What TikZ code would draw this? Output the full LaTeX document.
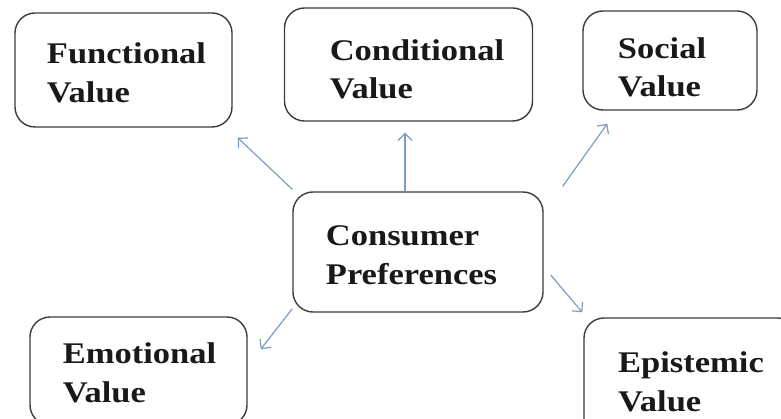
\documentclass[tikz,border=0pt]{standalone}
\usepackage{fontspec}
\setmainfont[FakeStretch=1.15]{Liberation Serif}
\usetikzlibrary{arrows.meta,calc}
\definecolor{boxline}{RGB}{60,60,60}
\definecolor{arrowblue}{RGB}{125,155,195}
\definecolor{inktext}{RGB}{25,25,25}
\begin{document}
\begin{tikzpicture}[x=1pt,y=-1pt,
  valuebox/.style={draw=boxline, line width=1.4pt, rounded corners=20pt,
    inner sep=0pt},
  valuetext/.style={align=left, inner sep=0pt, text=inktext,
    font=\bfseries\fontsize{30}{38.5}\selectfont},
  link/.style={draw=arrowblue, line width=1.2pt,
    -{Straight Barb[length=7pt,width=14pt]}}]
  \useasboundingbox (0,0) rectangle (781,419);
  \clip (0,0) rectangle (781,419);

  % rounded boxes
  \node[valuebox, minimum width=217pt, minimum height=114pt] (fv) at (123.5,70) {};
  \node[valuebox, minimum width=248pt, minimum height=113pt] (cv) at (408.5,64.5) {};
  \node[valuebox, minimum width=174pt, minimum height=99pt] (sv) at (670,60.5) {};
  \node[valuebox, minimum width=250pt, minimum height=120pt] (cp) at (418,252) {};
  \node[valuebox, minimum width=217pt, minimum height=108pt] (ev) at (138.5,371) {};
  \node[valuebox, minimum width=214pt, minimum height=122pt] (xv) at (691,379) {};

  % labels inside the boxes
  \node[valuetext] (fvt) at ($(fv)+(3,3)$) {Functional\\Value};
  \node[valuetext] (cvt) at ($(cv)+(8.5,5)$) {Conditional\\Value};
  \node[valuetext] (svt) at ($(sv)+(-8,7)$) {Social\\Value};
  \node[valuetext] (cpt) at ($(cp)+(-6.5,3)$) {Consumer\\Preferences};
  \node[valuetext] (evt) at ($(ev)+(1,2)$) {Emotional\\Value};
  \node[valuetext] (xvt) at ($(xv)+(0,3)$) {Epistemic\\Value};

  % connectors from the centre box outwards
  \draw[link] ($(cp.north west)+(0,-2)$) -- ($(fv.south east)+(5,10)$);
  \draw[link] (cp.north -| 405,0) -- ($(cv.south -| 405,0)+(0,11)$);
  \draw[link] ($(cp.north east)+(19,-5)$) -- ($(sv.south west)+(25,13)$);
  \draw[link] ($(cp.south west)+(0,-4)$) -- ($(ev.north east)+(13,33)$);
  \draw[link] ($(cp.east)+(7,23)$) -- ($(xv.north west)+(-1,-5)$);
\end{tikzpicture}
\end{document}
